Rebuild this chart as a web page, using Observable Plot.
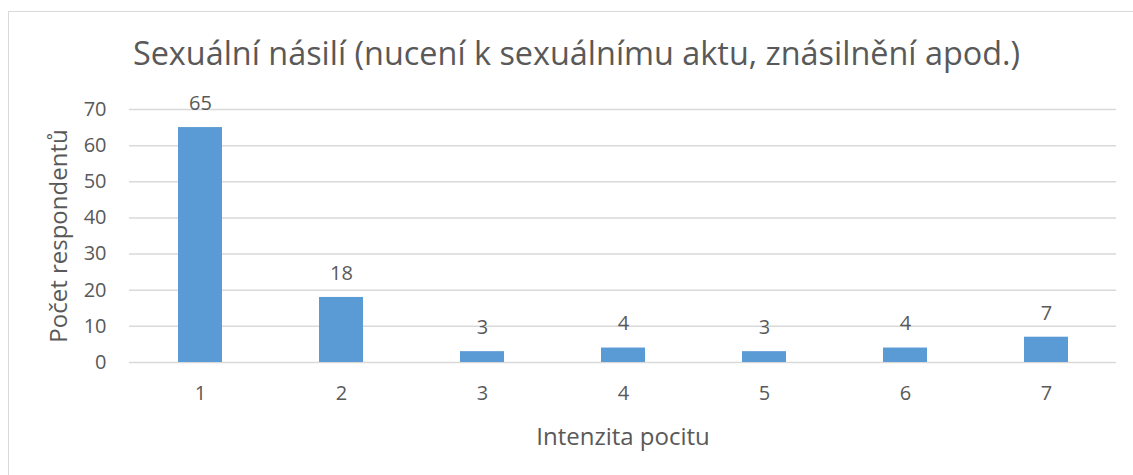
<!DOCTYPE html>
<html>
<head>
<meta charset="utf-8">
<script src="https://cdn.jsdelivr.net/npm/d3@7"></script>
<script src="https://cdn.jsdelivr.net/npm/@observablehq/plot@0.6"></script>
<style>
  html, body { margin: 0; padding: 0; background: #fff; }
  #wrap { position: relative; width: 1133px; height: 475px; overflow: hidden; font-family: "Open Sans", sans-serif; }
  #frame { position: absolute; left: 8px; top: 11px; width: 1200px; height: 500px; border-left: 1.5px solid #d9d9d9; border-top: 1.5px solid #d9d9d9; box-sizing: border-box; }
  #title { position: absolute; left: 0; width: 1153px; top: 36px; text-align: center; font-size: 32.4px; color: #595959; white-space: nowrap; line-height: 1; }
  #chart { position: absolute; left: 0; top: 0; }
</style>
</head>
<body>
<div id="wrap">
  <div id="frame"></div>
  <div id="chart"></div>
  <div id="title"></div>
</div>
<script>
const titleText = "Sexuální násilí (nucení k sexuálnímu aktu, znásilnění apod.)";
const xLabel = "Intenzita pocitu";
const yLabel = "Počet respondentů";
const categories = ["1", "2", "3", "4", "5", "6", "7"];
const counts = [65, 18, 3, 4, 3, 4, 7];
const yTicks = [0, 10, 20, 30, 40, 50, 60, 70];

document.getElementById("title").textContent = titleText;

const data = categories.map((c, i) => ({category: c, count: counts[i]}));
const textColor = "#595959";

const chart = Plot.plot({
  width: 1133,
  height: 475,
  marginLeft: 129,
  marginRight: 17,
  marginTop: 109,
  marginBottom: 113,
  style: {fontFamily: "Open Sans, sans-serif", fontSize: "20px", color: textColor, background: "transparent", overflow: "visible"},
  x: {domain: categories, paddingInner: 0.688, paddingOuter: 0.344, label: null},
  y: {domain: [0, 70], label: null},
  marks: [
    Plot.ruleY(yTicks, {stroke: "#d9d9d9", strokeWidth: 1.5}),
    Plot.barY(data, {x: "category", y: "count", fill: "#5b9bd5"}),
    Plot.text(data, {x: "category", y: "count", text: d => String(d.count), dy: -24, fill: textColor, fontSize: 20}),
    Plot.axisX({tickSize: 0, tickPadding: 23, fontSize: 20, fill: textColor}),
    Plot.axisX({ticks: [], tickSize: 0, fontSize: 24, fill: textColor, label: xLabel, labelAnchor: "center", labelOffset: 82, labelArrow: "none"}),
    Plot.axisY({ticks: yTicks, tickSize: 0, tickPadding: 23, fontSize: 20, fill: textColor}),
    Plot.axisY({ticks: [], tickSize: 0, fontSize: 24, fill: textColor, label: yLabel, labelAnchor: "center", labelOffset: 80, labelArrow: "none"})
  ]
});
document.getElementById("chart").appendChild(chart);
</script>
</body>
</html>
